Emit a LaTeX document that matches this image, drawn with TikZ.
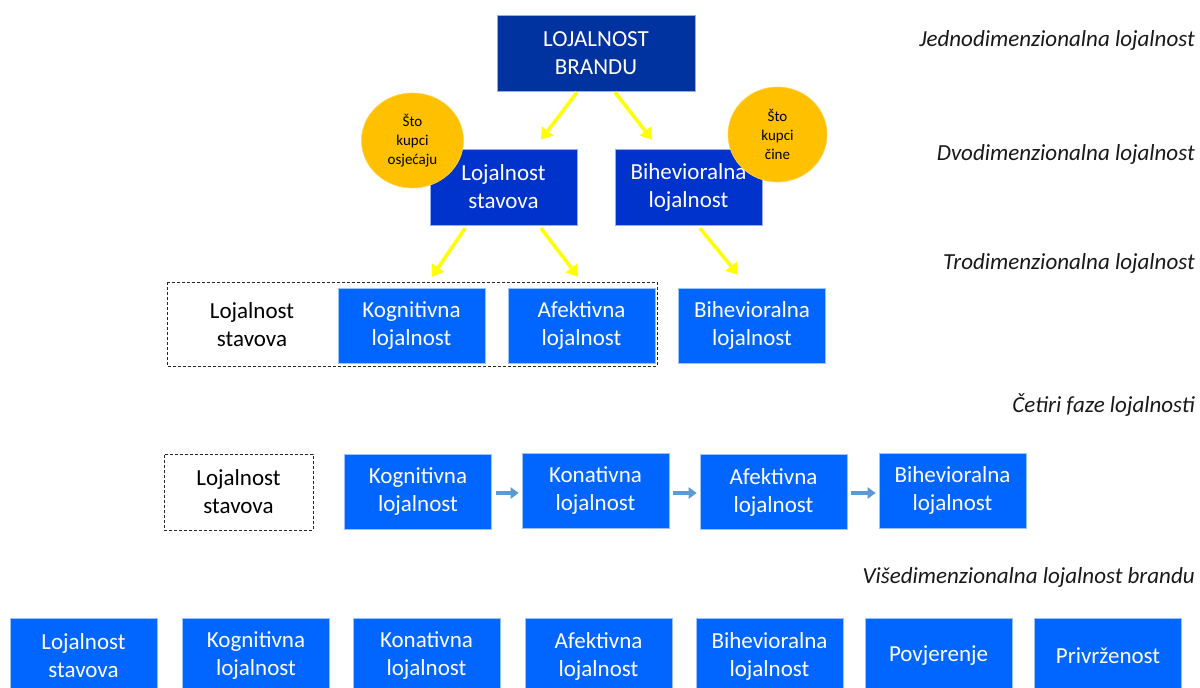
\documentclass[tikz,border=0pt]{standalone}
\usepackage{fontspec}
\setmainfont{Carlito}
\usetikzlibrary{shapes.geometric,arrows.meta,calc}
\definecolor{topblue}{HTML}{0033A0}
\definecolor{midblue}{HTML}{0033CC}
\definecolor{lowblue}{HTML}{0066FF}
\definecolor{gold}{HTML}{FFC000}
\definecolor{yel}{HTML}{FFFF00}
\definecolor{steel}{HTML}{5B9BD5}
\tikzset{
  boxtext/.style={font=\fontsize{23}{28}\selectfont, align=center, text=white},
  topbox/.style={boxtext, fill=topblue, draw=topblue!40!white, line width=0.6pt, minimum width=198pt, minimum height=76pt, inner sep=0pt},
  midbox/.style={boxtext, fill=midblue, draw=midblue!40!white, line width=0.6pt, minimum width=147pt, minimum height=76pt, inner sep=0pt},
  lowbox/.style={boxtext, fill=lowblue, draw=lowblue!40!white, line width=0.6pt, minimum width=147pt, minimum height=75pt, inner sep=0pt},
  plaintext/.style={font=\fontsize{23}{28}\selectfont, align=center, text=black},
  dashbox/.style={draw=black!85, dashed, dash pattern=on 3pt off 2pt, line width=1pt},
  bubble/.style={ellipse, fill=gold, draw=gold!70!white, line width=0.6pt, inner sep=0pt, font=\fontsize{15}{18.7}\selectfont, align=center, text=black},
  yarrow/.style={draw=yel, line width=3.5pt, -{Triangle[length=11pt,width=14pt]}},
  sarrow/.style={draw=steel, line width=3.5pt, -{Triangle[length=8pt,width=11pt]}},
  label/.style={font=\fontsize{23}{28}\selectfont\itshape, anchor=east, text=black!90, inner sep=0pt},
}
\begin{document}
\begin{tikzpicture}[x=1pt,y=-1pt]
\useasboundingbox (0,0) rectangle (1200,688);
\clip (0,0) rectangle (1200,688);
\fill[white] (0,0) rectangle (1200,688);

% right-hand labels
\node[label] (l1) at (1195,40) {Jednodimenzionalna lojalnost};
\node[label] (l2) at (1195,154) {Dvodimenzionalna lojalnost};
\node[label] (l3) at (1195,263) {Trodimenzionalna lojalnost};
\node[label] (l4) at (1195,405) {Četiri faze lojalnosti};
\node[label] (l5) at (1195,577) {Višedimenzionalna lojalnost brandu};

% level 1 and 2
\node[topbox] (top) at (596,53) {LOJALNOST\\BRANDU};
\node[midbox] (ls) at (503.5,187) {Lojalnost\\stavova};
\node[midbox] (bh) at (688.5,187) {Bihevioralna\\lojalnost};
\node[bubble, minimum width=102pt, minimum height=95pt] (cl) at (412.5,140.5) {Što\\kupci\\osjećaju};
\node[bubble, minimum width=99pt, minimum height=95pt] (cr) at (777.5,134.5) {Što\\kupci\\čine};

% level 3
\draw[dashbox] (167,282) rectangle (657,366);
\node[plaintext] (ls3) at (252,325) {Lojalnost\\stavova};
\node[lowbox] (kog3) at (411.5,325.5) {Kognitivna\\lojalnost};
\node[lowbox] (afe3) at (581.5,325.5) {Afektivna\\lojalnost};
\node[lowbox] (bih3) at (752,325.5) {Bihevioralna\\lojalnost};

% level 4
\node[plaintext, dashbox, minimum width=149pt, minimum height=76pt, inner sep=0pt] (ls4) at (238.5,492) {Lojalnost\\stavova};
\node[lowbox] (kog4) at (418,492) {Kognitivna\\lojalnost};
\node[lowbox] (kon4) at (595.5,490.5) {Konativna\\lojalnost};
\node[lowbox] (afe4) at (773.5,492) {Afektivna\\lojalnost};
\node[lowbox] (bih4) at (952.5,490.5) {Bihevioralna\\lojalnost};

% level 5
\node[lowbox, minimum height=76pt] (ls5) at (83.5,656) {Lojalnost\\stavova};
\node[lowbox, minimum height=76pt] (kog5) at (256,656) {Kognitivna\\lojalnost};
\node[lowbox, minimum height=76pt] (kon5) at (426.5,656) {Konativna\\lojalnost};
\node[lowbox, minimum height=76pt] (afe5) at (598.5,656) {Afektivna\\lojalnost};
\node[lowbox, minimum height=76pt] (bih5) at (769.5,656) {Bihevioralna\\lojalnost};
\node[lowbox, minimum height=76pt] (pov5) at (938.5,656) {Povjerenje};
\node[lowbox, minimum height=76pt] (pri5) at (1108,656) {Privrženost};

% yellow arrows
\draw[yarrow] ($(top.south)+(-19,1)$) -- ($(ls.north)+(37.5,-9)$);
\draw[yarrow] ($(top.south)+(19,1)$) -- ($(bh.north)+(-36.5,-9)$);
\draw[yarrow] ($(ls.south)+(-38.5,3)$) -- ($(kog3.north)+(20.5,-11)$);
\draw[yarrow] ($(ls.south)+(37.5,3)$) -- ($(afe3.north)+(-3.5,-11)$);
\draw[yarrow] ($(bh.south)+(11.5,3)$) -- ($(bih3.north)+(-14,-13)$);

% small arrows
\draw[sarrow] ($(kog4.east)+(4,1)$) -- ($(kon4.west |- kog4.east)+(-3,1)$);
\draw[sarrow] ($(kon4.east)+(4,2.5)$) -- ($(afe4.west |- kon4.east)+(-3,2.5)$);
\draw[sarrow] ($(afe4.east)+(4,1)$) -- ($(bih4.west |- afe4.east)+(-3,1)$);
\end{tikzpicture}
\end{document}
